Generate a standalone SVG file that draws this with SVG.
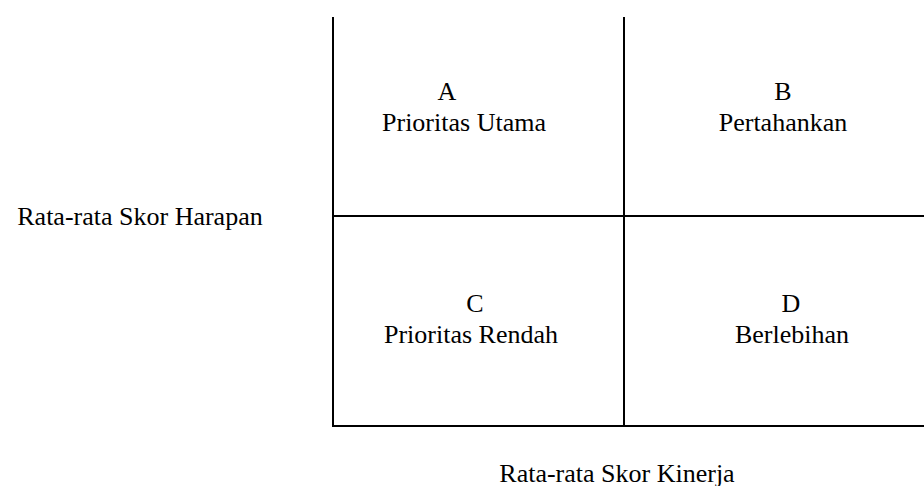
<svg xmlns="http://www.w3.org/2000/svg" width="924" height="486" viewBox="0 0 924 486">
<style>
.t{font-family:"Liberation Serif","Times New Roman",serif;font-size:26px;fill:#000;text-anchor:middle}
.l{stroke:#000;stroke-width:2;fill:none}
</style>
<rect width="924" height="486" fill="#fff"/>
<g id="grid">
<line class="l" x1="333" y1="17" x2="333" y2="427"/>
<line class="l" x1="624" y1="17" x2="624" y2="427"/>
<line class="l" x1="333" y1="216" x2="924" y2="216"/>
<line class="l" x1="332" y1="426" x2="924" y2="426"/>
</g>
<g id="quadA"><text class="t" x="447" y="100">A</text><text class="t" x="464" y="131">Prioritas Utama</text></g>
<g id="quadB"><text class="t" x="783" y="100">B</text><text class="t" x="783" y="131">Pertahankan</text></g>
<g id="quadC"><text class="t" x="475" y="312">C</text><text class="t" x="471" y="343">Prioritas Rendah</text></g>
<g id="quadD"><text class="t" x="791" y="312">D</text><text class="t" x="792" y="343">Berlebihan</text></g>
<g id="axisY"><text class="t" x="140" y="225">Rata-rata Skor Harapan</text></g>
<g id="axisX"><text class="t" x="617" y="482">Rata-rata Skor Kinerja</text></g>
</svg>
